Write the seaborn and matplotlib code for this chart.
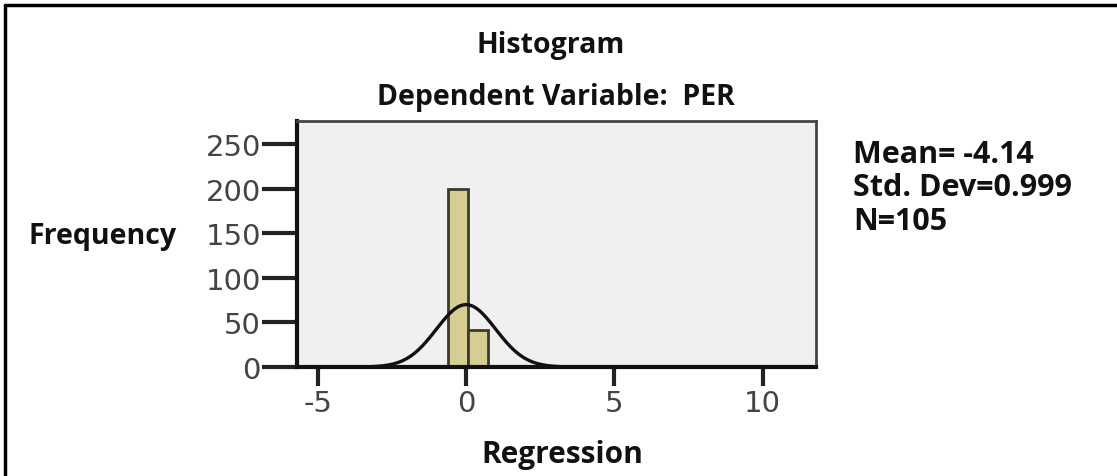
import numpy as np
import pandas as pd
import matplotlib
matplotlib.use("Agg")
import matplotlib.pyplot as plt
from matplotlib.lines import Line2D
import seaborn as sns

# ---- data ----
bin_centers = [-0.25, 0.42, 5.1, 9.9]
bin_counts = [200, 42, 1, 1]
bin_start = -0.6
bin_width = 0.67
bin_end = 10.79
curve_mean = 0.0
curve_sd = 1.0
curve_peak = 70.0
x_ticks = [-5, 0, 5, 10]
y_ticks = [0, 50, 100, 150, 200, 250]
title_lines = ["Histogram", "Dependent Variable:  PER"]
stats_lines = ["Mean= -4.14", "Std. Dev=0.999", "N=105"]
x_label = "Regression"
y_label = "Frequency"

sns.set_style("white")
plt.rcParams["font.family"] = ["Open Sans", "DejaVu Sans"]

fig = plt.figure(figsize=(11.17, 4.77), dpi=100)
ax = fig.add_axes([0.2659, 0.2285, 0.4646, 0.5157])
ax.set_facecolor("#f0f0f0")

df = pd.DataFrame({"x": bin_centers, "w": bin_counts})
sns.histplot(data=df, x="x", weights="w", binwidth=bin_width,
             binrange=(bin_start, bin_end), ax=ax,
             color="#d6cd92", edgecolor="#3b3a2c", linewidth=2.0, alpha=1.0)

xs = np.linspace(-5.7, 11.8, 500)
ys = curve_peak * np.exp(-0.5 * ((xs - curve_mean) / curve_sd) ** 2)
sns.lineplot(x=xs, y=ys, ax=ax, color="#111111", linewidth=2.4)

ax.set_xlim(-5.7, 11.8)
ax.set_ylim(0, 276)
ax.set_xticks(x_ticks)
ax.set_yticks(y_ticks)
ax.set_xticklabels([str(v) for v in x_ticks], family="DejaVu Sans")
ax.set_yticklabels([str(v) for v in y_ticks], family="DejaVu Sans")
ax.tick_params(axis="y", length=25, width=3, color="#222222", pad=1,
               labelsize=21, labelcolor="#444444", direction="out", left=True)
ax.tick_params(axis="x", length=14, width=3, color="#222222", pad=2,
               labelsize=21, labelcolor="#444444", direction="out", bottom=True)

for side in ["left", "bottom"]:
    ax.spines[side].set_color("#111111")
    ax.spines[side].set_linewidth(3)
for side in ["top", "right"]:
    ax.spines[side].set_color("#444444")
    ax.spines[side].set_linewidth(2)
    ax.spines[side].set_visible(True)

ax.set_xlabel("")
ax.set_ylabel("")

W, H = 1117, 477
tk = dict(fontweight="bold", color="#111111")
fig.text(551 / W, 1 - 53 / H, title_lines[0], ha="center", va="baseline", fontsize=20.5, **tk)
fig.text(556 / W, 1 - 105 / H, title_lines[1], ha="center", va="baseline", fontsize=20.5, **tk)
fig.text(562 / W, 1 - 463 / H, x_label, ha="center", va="baseline", fontsize=21.5, **tk)
fig.text(177 / W, 1 - 244 / H, y_label, ha="right", va="baseline", fontsize=20.5, **tk)
for s, yb in zip(stats_lines, [163, 196, 230]):
    fig.text(853 / W, 1 - yb / H, s, ha="left", va="baseline", fontsize=22, **tk)

# outer frame lines (top and left)
fig.add_artist(Line2D([5 / W, 1.0], [1 - 6 / H, 1 - 6 / H],
                      transform=fig.transFigure, color="black", linewidth=2.5))
fig.add_artist(Line2D([5 / W, 5 / W], [0.0, 1 - 6 / H],
                      transform=fig.transFigure, color="black", linewidth=2.5))

fig.savefig("out.png", dpi=100, facecolor="white")
